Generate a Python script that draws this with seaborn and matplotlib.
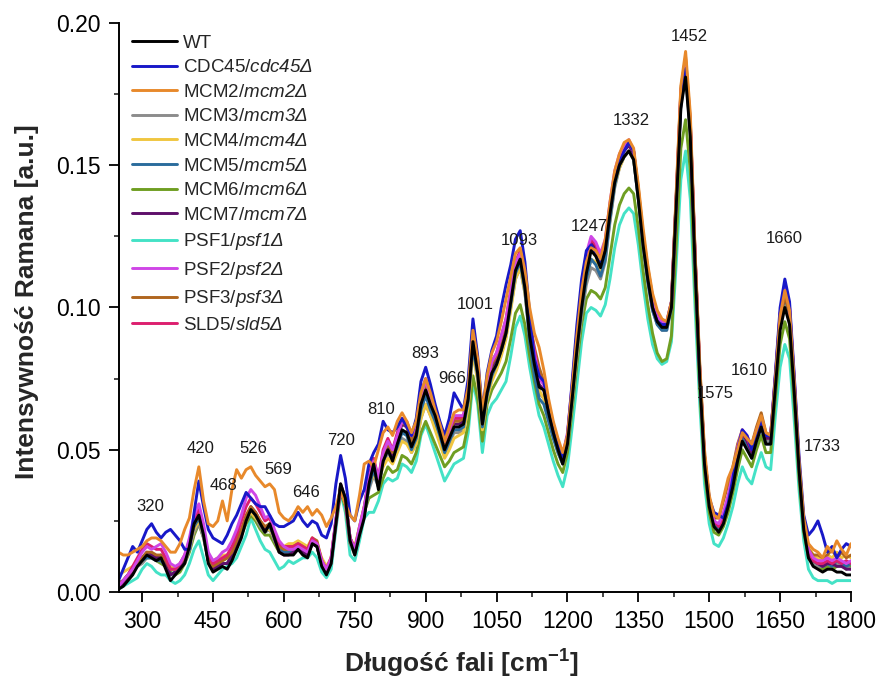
import matplotlib
matplotlib.use("Agg")
import matplotlib.pyplot as plt
from matplotlib.lines import Line2D
from matplotlib.ticker import MultipleLocator, FormatStrFormatter
import pandas as pd
import seaborn as sns

# Raman shift grid [cm^-1]
wavenumber = list(range(250, 1801, 10))

wt = [0.001, 0.002, 0.004, 0.006, 0.009, 0.011, 0.013, 0.012, 0.011, 0.012,
      0.008, 0.004, 0.006, 0.008, 0.010, 0.016, 0.024, 0.027, 0.020, 0.010,
      0.007, 0.008, 0.009, 0.008, 0.011, 0.015, 0.019, 0.025, 0.029, 0.027,
      0.024, 0.021, 0.024, 0.019, 0.014, 0.013, 0.013, 0.013, 0.015, 0.013,
      0.012, 0.017, 0.016, 0.009, 0.006, 0.010, 0.024, 0.038, 0.033, 0.018,
      0.013, 0.020, 0.026, 0.038, 0.045, 0.036, 0.046, 0.050, 0.046, 0.052,
      0.057, 0.056, 0.051, 0.055, 0.066, 0.071, 0.066, 0.062, 0.056, 0.050,
      0.054, 0.058, 0.058, 0.059, 0.068, 0.088, 0.077, 0.059, 0.070, 0.077,
      0.080, 0.085, 0.091, 0.102, 0.113, 0.117, 0.107, 0.090, 0.080, 0.072,
      0.071, 0.063, 0.056, 0.050, 0.045, 0.052, 0.068, 0.085, 0.100, 0.112,
      0.120, 0.118, 0.114, 0.120, 0.133, 0.144, 0.150, 0.153, 0.155, 0.152,
      0.138, 0.122, 0.110, 0.100, 0.095, 0.093, 0.093, 0.100, 0.135, 0.170,
      0.181, 0.160, 0.115, 0.075, 0.045, 0.030, 0.023, 0.021, 0.024, 0.030,
      0.037, 0.046, 0.053, 0.050, 0.047, 0.053, 0.058, 0.052, 0.052, 0.072,
      0.092, 0.100, 0.094, 0.070, 0.043, 0.022, 0.012, 0.009, 0.008, 0.007,
      0.008, 0.008, 0.007, 0.007, 0.006, 0.006]

cdc45 = [0.004, 0.008, 0.012, 0.016, 0.014, 0.018, 0.022, 0.024, 0.021, 0.019,
         0.021, 0.022, 0.020, 0.018, 0.015, 0.015, 0.028, 0.039, 0.030, 0.022,
         0.019, 0.018, 0.017, 0.020, 0.024, 0.027, 0.031, 0.035, 0.033, 0.031,
         0.030, 0.030, 0.027, 0.024, 0.023, 0.023, 0.024, 0.025, 0.028, 0.025,
         0.023, 0.025, 0.024, 0.020, 0.019, 0.024, 0.038, 0.048, 0.040, 0.027,
         0.025, 0.032, 0.036, 0.045, 0.049, 0.052, 0.060, 0.057, 0.056, 0.058,
         0.061, 0.058, 0.055, 0.061, 0.074, 0.079, 0.073, 0.066, 0.060, 0.055,
         0.061, 0.070, 0.067, 0.064, 0.075, 0.096, 0.083, 0.063, 0.077, 0.085,
         0.090, 0.100, 0.108, 0.115, 0.124, 0.127, 0.116, 0.098, 0.082, 0.076,
         0.074, 0.065, 0.058, 0.052, 0.047, 0.055, 0.074, 0.094, 0.110, 0.120,
         0.122, 0.119, 0.116, 0.121, 0.135, 0.146, 0.151, 0.155, 0.158, 0.155,
         0.140, 0.124, 0.111, 0.100, 0.095, 0.094, 0.094, 0.102, 0.138, 0.172,
         0.184, 0.163, 0.118, 0.078, 0.048, 0.033, 0.028, 0.027, 0.026, 0.031,
         0.040, 0.050, 0.057, 0.055, 0.050, 0.056, 0.060, 0.055, 0.055, 0.077,
         0.100, 0.110, 0.102, 0.076, 0.048, 0.027, 0.020, 0.022, 0.025, 0.020,
         0.014, 0.016, 0.012, 0.015, 0.017, 0.016]

mcm2 = [0.014, 0.013, 0.013, 0.014, 0.015, 0.016, 0.018, 0.019, 0.019, 0.018,
        0.016, 0.014, 0.014, 0.017, 0.022, 0.026, 0.036, 0.044, 0.032, 0.024,
        0.023, 0.025, 0.032, 0.025, 0.036, 0.043, 0.040, 0.043, 0.044, 0.041,
        0.039, 0.037, 0.038, 0.036, 0.028, 0.026, 0.025, 0.027, 0.030, 0.028,
        0.030, 0.027, 0.029, 0.027, 0.023, 0.026, 0.030, 0.036, 0.031, 0.027,
        0.025, 0.034, 0.045, 0.046, 0.044, 0.050, 0.056, 0.058, 0.055, 0.060,
        0.063, 0.060, 0.056, 0.060, 0.070, 0.075, 0.070, 0.064, 0.059, 0.053,
        0.058, 0.063, 0.064, 0.064, 0.072, 0.092, 0.082, 0.063, 0.076, 0.084,
        0.088, 0.095, 0.103, 0.111, 0.119, 0.121, 0.113, 0.100, 0.091, 0.086,
        0.078, 0.068, 0.060, 0.054, 0.049, 0.055, 0.072, 0.090, 0.106, 0.116,
        0.121, 0.120, 0.117, 0.124, 0.137, 0.148, 0.154, 0.158, 0.159, 0.156,
        0.143, 0.128, 0.115, 0.105, 0.099, 0.096, 0.095, 0.102, 0.140, 0.178,
        0.190, 0.168, 0.120, 0.080, 0.050, 0.034, 0.027, 0.026, 0.033, 0.040,
        0.044, 0.050, 0.056, 0.054, 0.052, 0.057, 0.062, 0.056, 0.055, 0.075,
        0.097, 0.106, 0.099, 0.074, 0.046, 0.026, 0.017, 0.015, 0.014, 0.012,
        0.016, 0.014, 0.018, 0.015, 0.013, 0.017]

mcm3 = [0.002, 0.003, 0.005, 0.007, 0.009, 0.010, 0.012, 0.012, 0.011, 0.011,
        0.009, 0.006, 0.007, 0.008, 0.010, 0.015, 0.021, 0.024, 0.019, 0.011,
        0.009, 0.010, 0.010, 0.010, 0.013, 0.016, 0.020, 0.025, 0.028, 0.026,
        0.023, 0.021, 0.022, 0.018, 0.015, 0.014, 0.014, 0.014, 0.015, 0.014,
        0.013, 0.017, 0.016, 0.010, 0.007, 0.010, 0.023, 0.036, 0.031, 0.017,
        0.013, 0.020, 0.027, 0.036, 0.041, 0.037, 0.045, 0.049, 0.046, 0.050,
        0.054, 0.053, 0.049, 0.052, 0.061, 0.066, 0.062, 0.058, 0.053, 0.048,
        0.052, 0.056, 0.056, 0.057, 0.066, 0.085, 0.075, 0.058, 0.069, 0.075,
        0.079, 0.084, 0.090, 0.100, 0.110, 0.114, 0.105, 0.090, 0.080, 0.070,
        0.068, 0.061, 0.055, 0.049, 0.045, 0.052, 0.067, 0.083, 0.097, 0.108,
        0.114, 0.113, 0.110, 0.116, 0.130, 0.142, 0.149, 0.153, 0.155, 0.152,
        0.138, 0.122, 0.109, 0.099, 0.094, 0.092, 0.092, 0.100, 0.135, 0.171,
        0.182, 0.161, 0.116, 0.076, 0.046, 0.031, 0.024, 0.022, 0.025, 0.031,
        0.038, 0.047, 0.054, 0.051, 0.048, 0.054, 0.059, 0.053, 0.053, 0.073,
        0.094, 0.103, 0.096, 0.072, 0.044, 0.023, 0.013, 0.010, 0.009, 0.009,
        0.010, 0.009, 0.010, 0.009, 0.009, 0.008]

mcm4 = [0.006, 0.007, 0.008, 0.009, 0.010, 0.011, 0.012, 0.013, 0.012, 0.011,
        0.010, 0.009, 0.008, 0.009, 0.011, 0.016, 0.022, 0.025, 0.020, 0.013,
        0.011, 0.012, 0.013, 0.013, 0.015, 0.018, 0.022, 0.026, 0.028, 0.026,
        0.024, 0.022, 0.022, 0.019, 0.016, 0.016, 0.017, 0.017, 0.018, 0.017,
        0.016, 0.019, 0.017, 0.012, 0.009, 0.012, 0.025, 0.036, 0.031, 0.019,
        0.016, 0.023, 0.030, 0.038, 0.041, 0.039, 0.044, 0.047, 0.045, 0.049,
        0.053, 0.052, 0.049, 0.052, 0.061, 0.066, 0.062, 0.057, 0.052, 0.047,
        0.050, 0.054, 0.055, 0.056, 0.065, 0.084, 0.074, 0.057, 0.068, 0.074,
        0.078, 0.083, 0.089, 0.099, 0.110, 0.114, 0.105, 0.090, 0.080, 0.071,
        0.068, 0.061, 0.055, 0.049, 0.045, 0.052, 0.067, 0.084, 0.099, 0.110,
        0.117, 0.116, 0.112, 0.118, 0.131, 0.143, 0.149, 0.153, 0.155, 0.152,
        0.139, 0.123, 0.110, 0.100, 0.095, 0.093, 0.093, 0.101, 0.136, 0.172,
        0.183, 0.162, 0.117, 0.077, 0.047, 0.032, 0.025, 0.023, 0.026, 0.032,
        0.039, 0.048, 0.055, 0.052, 0.049, 0.055, 0.060, 0.054, 0.054, 0.074,
        0.095, 0.104, 0.097, 0.073, 0.045, 0.025, 0.016, 0.013, 0.012, 0.011,
        0.013, 0.012, 0.014, 0.012, 0.013, 0.012]

mcm5 = [0.003, 0.004, 0.006, 0.008, 0.010, 0.011, 0.012, 0.012, 0.011, 0.011,
        0.009, 0.006, 0.007, 0.009, 0.011, 0.016, 0.023, 0.026, 0.020, 0.011,
        0.008, 0.009, 0.010, 0.010, 0.012, 0.016, 0.020, 0.026, 0.029, 0.027,
        0.024, 0.022, 0.023, 0.019, 0.015, 0.014, 0.014, 0.014, 0.016, 0.014,
        0.013, 0.017, 0.016, 0.010, 0.007, 0.011, 0.024, 0.037, 0.032, 0.018,
        0.014, 0.021, 0.027, 0.037, 0.043, 0.037, 0.046, 0.050, 0.047, 0.051,
        0.056, 0.055, 0.050, 0.054, 0.064, 0.069, 0.064, 0.060, 0.055, 0.049,
        0.053, 0.057, 0.057, 0.058, 0.067, 0.086, 0.076, 0.058, 0.069, 0.076,
        0.080, 0.085, 0.091, 0.101, 0.112, 0.116, 0.106, 0.088, 0.076, 0.068,
        0.066, 0.060, 0.054, 0.049, 0.045, 0.052, 0.068, 0.085, 0.099, 0.110,
        0.117, 0.115, 0.111, 0.117, 0.131, 0.143, 0.150, 0.153, 0.155, 0.152,
        0.138, 0.122, 0.109, 0.099, 0.094, 0.092, 0.092, 0.100, 0.136, 0.172,
        0.183, 0.162, 0.116, 0.076, 0.046, 0.031, 0.024, 0.022, 0.025, 0.031,
        0.038, 0.047, 0.054, 0.051, 0.047, 0.053, 0.058, 0.052, 0.052, 0.073,
        0.095, 0.104, 0.097, 0.072, 0.044, 0.023, 0.013, 0.011, 0.010, 0.009,
        0.010, 0.009, 0.011, 0.010, 0.009, 0.010]

mcm6 = [0.003, 0.004, 0.006, 0.008, 0.010, 0.011, 0.012, 0.012, 0.011, 0.010,
        0.009, 0.007, 0.006, 0.007, 0.010, 0.014, 0.020, 0.024, 0.019, 0.011,
        0.009, 0.010, 0.011, 0.012, 0.014, 0.017, 0.020, 0.024, 0.027, 0.025,
        0.022, 0.020, 0.020, 0.017, 0.014, 0.014, 0.015, 0.015, 0.016, 0.016,
        0.015, 0.018, 0.016, 0.010, 0.008, 0.011, 0.024, 0.035, 0.030, 0.017,
        0.014, 0.021, 0.028, 0.033, 0.034, 0.035, 0.040, 0.044, 0.042, 0.043,
        0.048, 0.047, 0.045, 0.049, 0.056, 0.060, 0.056, 0.052, 0.048, 0.044,
        0.046, 0.049, 0.050, 0.051, 0.059, 0.076, 0.068, 0.053, 0.066, 0.071,
        0.074, 0.077, 0.081, 0.089, 0.098, 0.101, 0.094, 0.083, 0.074, 0.066,
        0.062, 0.056, 0.050, 0.045, 0.042, 0.049, 0.064, 0.080, 0.094, 0.103,
        0.106, 0.105, 0.103, 0.107, 0.118, 0.129, 0.136, 0.140, 0.142, 0.140,
        0.128, 0.113, 0.101, 0.091, 0.084, 0.081, 0.082, 0.090, 0.122, 0.156,
        0.166, 0.148, 0.107, 0.071, 0.042, 0.028, 0.021, 0.020, 0.023, 0.028,
        0.035, 0.043, 0.050, 0.047, 0.044, 0.050, 0.055, 0.049, 0.049, 0.068,
        0.087, 0.095, 0.089, 0.066, 0.040, 0.021, 0.012, 0.010, 0.009, 0.008,
        0.009, 0.008, 0.009, 0.010, 0.008, 0.009]

mcm7 = [0.002, 0.003, 0.005, 0.007, 0.010, 0.012, 0.014, 0.013, 0.012, 0.013,
        0.010, 0.006, 0.007, 0.009, 0.011, 0.017, 0.025, 0.028, 0.021, 0.011,
        0.008, 0.009, 0.010, 0.010, 0.013, 0.017, 0.021, 0.026, 0.030, 0.028,
        0.025, 0.022, 0.024, 0.019, 0.014, 0.013, 0.013, 0.014, 0.016, 0.014,
        0.013, 0.017, 0.016, 0.010, 0.007, 0.011, 0.025, 0.038, 0.033, 0.019,
        0.014, 0.021, 0.027, 0.039, 0.046, 0.038, 0.048, 0.052, 0.048, 0.054,
        0.059, 0.058, 0.053, 0.057, 0.068, 0.073, 0.068, 0.063, 0.057, 0.051,
        0.055, 0.059, 0.059, 0.060, 0.070, 0.090, 0.079, 0.060, 0.072, 0.079,
        0.082, 0.088, 0.094, 0.105, 0.115, 0.119, 0.109, 0.092, 0.082, 0.073,
        0.071, 0.064, 0.057, 0.051, 0.046, 0.054, 0.071, 0.089, 0.104, 0.116,
        0.123, 0.121, 0.117, 0.122, 0.135, 0.146, 0.152, 0.155, 0.157, 0.154,
        0.140, 0.124, 0.112, 0.102, 0.096, 0.094, 0.094, 0.101, 0.137, 0.174,
        0.185, 0.164, 0.118, 0.077, 0.047, 0.032, 0.025, 0.023, 0.026, 0.032,
        0.040, 0.049, 0.056, 0.053, 0.049, 0.055, 0.060, 0.054, 0.054, 0.075,
        0.096, 0.105, 0.098, 0.073, 0.045, 0.024, 0.014, 0.011, 0.010, 0.009,
        0.010, 0.010, 0.009, 0.009, 0.008, 0.008]

psf1 = [0.001, 0.002, 0.003, 0.004, 0.005, 0.008, 0.010, 0.009, 0.007, 0.006,
        0.006, 0.004, 0.003, 0.004, 0.006, 0.010, 0.015, 0.018, 0.012, 0.006,
        0.004, 0.006, 0.008, 0.009, 0.010, 0.012, 0.016, 0.020, 0.026, 0.022,
        0.018, 0.015, 0.014, 0.011, 0.008, 0.009, 0.011, 0.010, 0.011, 0.012,
        0.012, 0.014, 0.012, 0.007, 0.005, 0.008, 0.022, 0.035, 0.028, 0.013,
        0.011, 0.018, 0.026, 0.028, 0.028, 0.032, 0.038, 0.040, 0.039, 0.040,
        0.045, 0.044, 0.042, 0.046, 0.055, 0.059, 0.054, 0.049, 0.044, 0.039,
        0.042, 0.045, 0.046, 0.047, 0.056, 0.074, 0.066, 0.049, 0.062, 0.066,
        0.068, 0.071, 0.074, 0.083, 0.093, 0.097, 0.090, 0.079, 0.070, 0.062,
        0.058, 0.052, 0.046, 0.041, 0.037, 0.044, 0.058, 0.073, 0.088, 0.098,
        0.100, 0.099, 0.097, 0.101, 0.110, 0.121, 0.129, 0.133, 0.135, 0.133,
        0.122, 0.108, 0.096, 0.087, 0.082, 0.080, 0.081, 0.088, 0.115, 0.145,
        0.155, 0.138, 0.100, 0.066, 0.038, 0.024, 0.017, 0.016, 0.019, 0.024,
        0.030, 0.038, 0.044, 0.040, 0.038, 0.044, 0.049, 0.044, 0.043, 0.062,
        0.079, 0.087, 0.082, 0.060, 0.036, 0.018, 0.008, 0.005, 0.004, 0.004,
        0.004, 0.003, 0.004, 0.004, 0.004, 0.004]

psf2 = [0.002, 0.004, 0.006, 0.008, 0.011, 0.014, 0.016, 0.015, 0.016, 0.017,
        0.014, 0.010, 0.009, 0.010, 0.013, 0.019, 0.027, 0.031, 0.024, 0.014,
        0.011, 0.012, 0.014, 0.015, 0.018, 0.022, 0.027, 0.033, 0.036, 0.034,
        0.030, 0.026, 0.027, 0.022, 0.018, 0.016, 0.015, 0.015, 0.016, 0.015,
        0.014, 0.018, 0.017, 0.011, 0.008, 0.012, 0.026, 0.036, 0.032, 0.019,
        0.015, 0.023, 0.030, 0.040, 0.046, 0.040, 0.049, 0.053, 0.050, 0.055,
        0.060, 0.059, 0.055, 0.059, 0.069, 0.074, 0.069, 0.064, 0.058, 0.053,
        0.057, 0.062, 0.062, 0.062, 0.071, 0.091, 0.081, 0.062, 0.074, 0.081,
        0.084, 0.090, 0.096, 0.106, 0.116, 0.119, 0.110, 0.094, 0.084, 0.075,
        0.073, 0.066, 0.059, 0.053, 0.048, 0.056, 0.073, 0.091, 0.107, 0.119,
        0.125, 0.123, 0.119, 0.124, 0.137, 0.148, 0.154, 0.157, 0.159, 0.155,
        0.141, 0.125, 0.113, 0.103, 0.097, 0.095, 0.095, 0.102, 0.138, 0.176,
        0.186, 0.165, 0.119, 0.078, 0.048, 0.032, 0.025, 0.024, 0.028, 0.034,
        0.042, 0.051, 0.057, 0.055, 0.051, 0.057, 0.061, 0.055, 0.055, 0.076,
        0.098, 0.107, 0.100, 0.075, 0.046, 0.025, 0.015, 0.012, 0.011, 0.011,
        0.012, 0.011, 0.012, 0.011, 0.010, 0.011]

psf3 = [0.003, 0.004, 0.006, 0.008, 0.010, 0.012, 0.014, 0.014, 0.013, 0.013,
        0.011, 0.008, 0.008, 0.010, 0.012, 0.017, 0.024, 0.027, 0.021, 0.012,
        0.009, 0.010, 0.011, 0.012, 0.014, 0.018, 0.022, 0.027, 0.030, 0.028,
        0.025, 0.023, 0.024, 0.020, 0.016, 0.015, 0.015, 0.016, 0.017, 0.016,
        0.015, 0.019, 0.018, 0.011, 0.008, 0.012, 0.025, 0.037, 0.033, 0.019,
        0.015, 0.023, 0.030, 0.040, 0.046, 0.039, 0.048, 0.052, 0.049, 0.055,
        0.060, 0.058, 0.053, 0.057, 0.067, 0.072, 0.067, 0.062, 0.057, 0.052,
        0.056, 0.060, 0.060, 0.061, 0.070, 0.089, 0.079, 0.061, 0.073, 0.080,
        0.083, 0.089, 0.095, 0.105, 0.115, 0.119, 0.110, 0.095, 0.086, 0.079,
        0.074, 0.066, 0.058, 0.052, 0.047, 0.054, 0.070, 0.087, 0.102, 0.114,
        0.121, 0.120, 0.116, 0.122, 0.135, 0.146, 0.152, 0.156, 0.158, 0.155,
        0.142, 0.126, 0.114, 0.104, 0.098, 0.095, 0.095, 0.102, 0.139, 0.177,
        0.188, 0.166, 0.119, 0.079, 0.048, 0.033, 0.026, 0.026, 0.032, 0.038,
        0.044, 0.052, 0.057, 0.054, 0.052, 0.058, 0.063, 0.056, 0.055, 0.075,
        0.096, 0.104, 0.098, 0.073, 0.045, 0.025, 0.015, 0.013, 0.013, 0.012,
        0.013, 0.015, 0.012, 0.014, 0.012, 0.013]

sld5 = [0.002, 0.004, 0.006, 0.009, 0.012, 0.015, 0.017, 0.016, 0.015, 0.015,
        0.012, 0.008, 0.008, 0.010, 0.013, 0.018, 0.026, 0.029, 0.022, 0.013,
        0.010, 0.011, 0.012, 0.013, 0.016, 0.020, 0.025, 0.030, 0.033, 0.031,
        0.028, 0.025, 0.026, 0.021, 0.017, 0.016, 0.016, 0.016, 0.017, 0.016,
        0.015, 0.019, 0.017, 0.011, 0.008, 0.012, 0.025, 0.036, 0.032, 0.019,
        0.015, 0.022, 0.029, 0.041, 0.047, 0.040, 0.050, 0.054, 0.050, 0.056,
        0.061, 0.060, 0.055, 0.059, 0.070, 0.075, 0.070, 0.065, 0.059, 0.053,
        0.057, 0.061, 0.061, 0.062, 0.071, 0.090, 0.080, 0.062, 0.074, 0.081,
        0.084, 0.090, 0.096, 0.106, 0.116, 0.120, 0.111, 0.095, 0.085, 0.076,
        0.073, 0.066, 0.059, 0.053, 0.048, 0.055, 0.072, 0.090, 0.105, 0.117,
        0.124, 0.122, 0.118, 0.123, 0.136, 0.147, 0.153, 0.156, 0.158, 0.155,
        0.141, 0.125, 0.113, 0.103, 0.097, 0.095, 0.094, 0.101, 0.138, 0.176,
        0.187, 0.165, 0.119, 0.078, 0.047, 0.032, 0.025, 0.023, 0.026, 0.032,
        0.041, 0.050, 0.056, 0.054, 0.050, 0.056, 0.061, 0.055, 0.055, 0.076,
        0.098, 0.107, 0.100, 0.074, 0.045, 0.024, 0.014, 0.011, 0.010, 0.010,
        0.011, 0.010, 0.011, 0.010, 0.011, 0.010]

strains = ["WT", "CDC45", "MCM2", "MCM3", "MCM4", "MCM5", "MCM6", "MCM7",
           "PSF1", "PSF2", "PSF3", "SLD5"]
spectra = [wt, cdc45, mcm2, mcm3, mcm4, mcm5, mcm6, mcm7, psf1, psf2, psf3, sld5]
# deletion alleles are set in the italic (sf slot) face
legend_labels = ["WT",
                 r"CDC45/$\mathsf{cdc45Δ}$",
                 r"MCM2/$\mathsf{mcm2Δ}$",
                 r"MCM3/$\mathsf{mcm3Δ}$",
                 r"MCM4/$\mathsf{mcm4Δ}$",
                 r"MCM5/$\mathsf{mcm5Δ}$",
                 r"MCM6/$\mathsf{mcm6Δ}$",
                 r"MCM7/$\mathsf{mcm7Δ}$",
                 r"PSF1/$\mathsf{psf1Δ}$",
                 r"PSF2/$\mathsf{psf2Δ}$",
                 r"PSF3/$\mathsf{psf3Δ}$",
                 r"SLD5/$\mathsf{sld5Δ}$"]
colors = ["#000000", "#1818c8", "#e8892b", "#8c8c8c", "#f0c640", "#2a6c9c",
          "#6f9e22", "#5e0f6a", "#44e2c6", "#cf46e6", "#b0661f", "#dc1f6e"]

# Band assignments annotated above the spectra
peak_names = ["320", "420", "468", "526", "569", "646", "720", "810", "893",
              "966", "1001", "1093", "1247", "1332", "1452", "1575", "1610",
              "1660", "1733"]
peak_text_x = [317, 424, 472, 536, 589, 646, 722, 805, 898,
               957, 1004, 1098, 1246, 1335, 1457, 1512, 1584, 1658, 1739]
peak_text_y = [0.0299, 0.0506, 0.0373, 0.0506, 0.0432, 0.0348, 0.0531, 0.0643,
               0.0837, 0.0752, 0.1009, 0.1237, 0.1283, 0.1659, 0.1951, 0.0699,
               0.0780, 0.1244, 0.0510]

sns.set_theme(style="ticks")
plt.rcParams["font.family"] = ["Liberation Sans", "DejaVu Sans"]
plt.rcParams["mathtext.fontset"] = "custom"
plt.rcParams["mathtext.rm"] = "Liberation Sans"
plt.rcParams["mathtext.it"] = "Liberation Sans:italic"
plt.rcParams["mathtext.sf"] = "Liberation Sans:italic"
plt.rcParams["mathtext.bf"] = "Liberation Sans:bold"

rows = []
for name, values in zip(strains, spectra):
    for x, y in zip(wavenumber, values):
        rows.append({"wavenumber": x, "intensity": y, "strain": name})
df = pd.DataFrame(rows)
palette = dict(zip(strains, colors))

# background strains first, wild type drawn last so it stays on top
draw_order = ["PSF1", "MCM6", "MCM3", "MCM4", "MCM5", "MCM7", "PSF3", "SLD5",
              "PSF2", "CDC45", "MCM2", "WT"]

fig = plt.figure(figsize=(8.81, 6.79), dpi=100)
ax = fig.add_axes([118.5 / 881, 1 - 592 / 679, (851 - 118.5) / 881, (592 - 23) / 679])

sns.lineplot(data=df, x="wavenumber", y="intensity", hue="strain",
             hue_order=draw_order, palette=palette, linewidth=2.1,
             estimator=None, legend=False, ax=ax)

ax.set_xlim(250, 1800)
ax.set_ylim(0, 0.20)
ax.xaxis.set_major_locator(MultipleLocator(150))
ax.xaxis.set_minor_locator(MultipleLocator(75))
ax.yaxis.set_major_locator(MultipleLocator(0.05))
ax.yaxis.set_minor_locator(MultipleLocator(0.025))
ax.yaxis.set_major_formatter(FormatStrFormatter("%.2f"))
ax.set_xticks([300, 450, 600, 750, 900, 1050, 1200, 1350, 1500, 1650, 1800])

ax.tick_params(which="major", direction="out", length=7, width=1.3,
               labelsize=16.5, pad=6, colors="black")
ax.tick_params(which="minor", direction="out", length=3.5, width=1.2)
sns.despine(ax=ax)
for side in ("left", "bottom"):
    ax.spines[side].set_linewidth(1.4)
    ax.spines[side].set_color("black")

ax.set_xlabel("Długość fali [cm$^{\\mathbf{-1}}$]", fontsize=19, fontweight="bold")
ax.set_ylabel("Intensywność Ramana [a.u.]", fontsize=19, fontweight="bold")
ax.xaxis.set_label_coords(0.4676, -0.098)
ax.yaxis.set_label_coords(-0.108, 0.51)

for name, tx, ty in zip(peak_names, peak_text_x, peak_text_y):
    ax.text(tx, ty, name, ha="center", va="center", fontsize=12, color="#1a1a1a")

handles = [Line2D([], [], color=c, linewidth=2.1) for c in colors]
ax.legend(handles, legend_labels, loc="upper left", bbox_to_anchor=(0.018, 0.98),
          frameon=False, fontsize=13.5, handlelength=2.4, handletextpad=0.35,
          labelspacing=0.4, borderaxespad=0, borderpad=0)

fig.savefig("out.png", dpi=100)
